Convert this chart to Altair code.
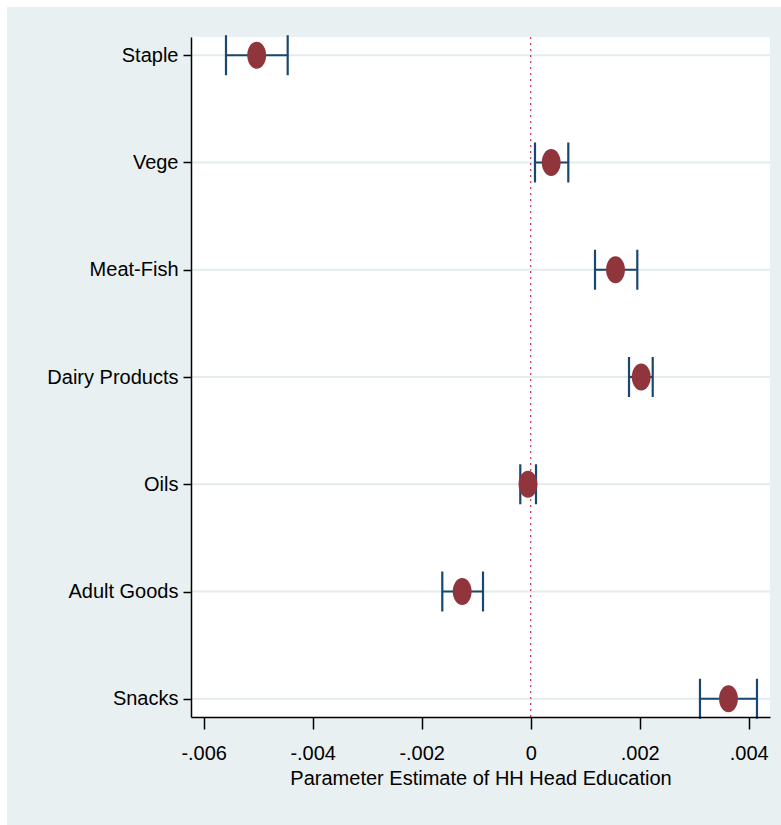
import altair as alt
import pandas as pd

# Coefficient estimates with 95% confidence bounds, by food group
categories = ["Staple", "Vege", "Meat-Fish", "Dairy Products", "Oils", "Adult Goods", "Snacks"]
estimate = [-0.005028, 0.000376, 0.001556, 0.002028, -0.0000495, -0.001257, 0.003629]
ci_low = [-0.005591, 0.0000789, 0.001180, 0.001804, -0.000191, -0.001622, 0.003106]
ci_high = [-0.004459, 0.000690, 0.001956, 0.002239, 0.0000973, -0.000875, 0.004152]
x_ticks = [-0.006, -0.004, -0.002, 0, 0.002, 0.004]

df = pd.DataFrame({"cat": categories, "est": estimate, "lo": ci_low, "hi": ci_high})

FONT = "Liberation Sans"
FS = 20
BG = "#e9f0f2"
GRID = "#e3ebee"
NAVY = "#1a476f"
MAROON = "#90353b"

W, H = 579, 680
PAD = {"left": 191, "top": 37, "right": 11, "bottom": 108}

x_scale = alt.Scale(domain=[-0.006233, 0.004391], nice=False, zero=False)
y_scale = alt.Scale(type="point", domain=categories, padding=0.17)

x_axis = alt.Axis(
    values=x_ticks,
    labelExpr="datum.value == 0 ? '0' : replace(replace(format(datum.value, '.3f'), '0.', '.'), '\u2212', '-')",
    title="Parameter Estimate of HH Head Education",
    grid=False, zindex=1,
    domainColor="black", domainWidth=1.5,
    tickColor="black", tickWidth=1.5, tickSize=12,
    labelFont=FONT, labelFontSize=FS, labelColor="black", labelPadding=14,
    titleFont=FONT, titleFontSize=FS, titleFontWeight="normal", titleColor="black",
    titleBaseline="alphabetic", titleY=67,
    labelFlush=False, labelOverlap=False,
)
y_axis = alt.Axis(
    title=None, grid=False, zindex=1,
    domainColor="black", domainWidth=1.5,
    tickColor="black", tickWidth=1.5, tickSize=8,
    labelFont=FONT, labelFontSize=FS, labelColor="black", labelPadding=5,
)

one = alt.Data(values=[{}])

# outer panel and white plot region
outer = alt.Chart(one).mark_rect(color=BG).encode(
    x=alt.value(-PAD["left"] + 7), x2=alt.value(W + PAD["right"]),
    y=alt.value(-PAD["top"] + 7), y2=alt.value(H + PAD["bottom"]),
)
inner = alt.Chart(one).mark_rect(color="white").encode(
    x=alt.value(0), x2=alt.value(W), y=alt.value(0), y2=alt.value(H),
)

base = alt.Chart(df)

grid = base.mark_rule(color=GRID, strokeWidth=2).encode(
    y=alt.Y("cat:N", scale=y_scale, axis=y_axis, sort=categories),
    x=alt.value(0), x2=alt.value(W),
)

zero = alt.Chart(one).mark_rule(color="#d42a4e", strokeWidth=1.2, strokeDash=[2, 4]).encode(
    x=alt.datum(0, scale=x_scale, axis=x_axis, type="quantitative"),
    y=alt.value(0), y2=alt.value(H),
)

bars = base.mark_rule(color=NAVY, strokeWidth=2.2).encode(
    y=alt.Y("cat:N", scale=y_scale, sort=categories),
    x=alt.X("lo:Q", scale=x_scale, axis=x_axis),
    x2="hi:Q",
)
cap_lo = base.mark_tick(color=NAVY, thickness=2.2, size=40, orient="vertical", opacity=1).encode(
    y=alt.Y("cat:N", scale=y_scale, sort=categories),
    x=alt.X("lo:Q", scale=x_scale),
)
cap_hi = base.mark_tick(color=NAVY, thickness=2.2, size=40, orient="vertical", opacity=1).encode(
    y=alt.Y("cat:N", scale=y_scale, sort=categories),
    x=alt.X("hi:Q", scale=x_scale),
)
points = base.mark_point(
    filled=True, opacity=1, color=MAROON, size=729,
    shape="M-0.7,0A0.7,1,0,1,0,0.7,0A0.7,1,0,1,0,-0.7,0Z",
).encode(
    y=alt.Y("cat:N", scale=y_scale, sort=categories),
    x=alt.X("est:Q", scale=x_scale),
)

chart = alt.layer(outer, inner, grid, zero, bars, cap_lo, cap_hi, points).properties(
    width=W, height=H,
    padding=PAD,
    autosize=alt.AutoSizeParams(type="none"),
    background="white",
).configure_view(stroke=None)

chart.save("out.html", embed_options={"renderer": "svg", "actions": False})
